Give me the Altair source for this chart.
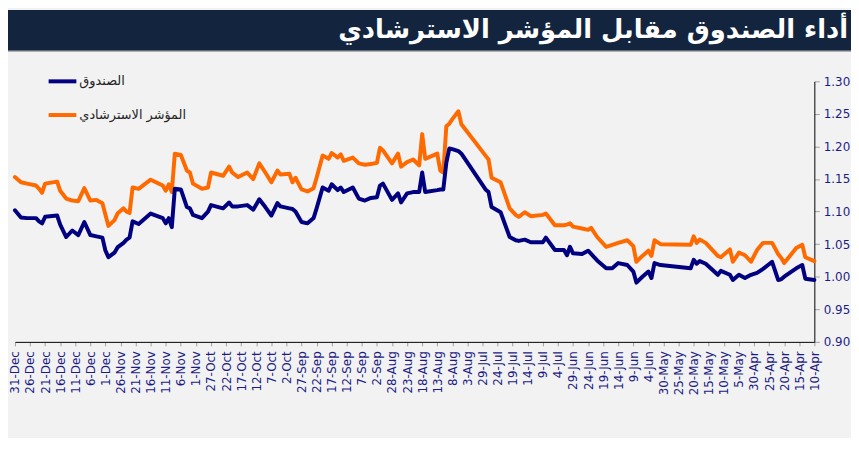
import altair as alt
import pandas as pd

FUND = "الصندوق"
BENCH = "المؤشر الاسترشادي"
TITLE = "أداء الصندوق مقابل المؤشر الاسترشادي"

dates = [
    "2019-04-10", "2019-04-13", "2019-04-14", "2019-04-16", "2019-04-20", "2019-04-21", "2019-04-22",
    "2019-04-24", "2019-04-27", "2019-04-29", "2019-05-01", "2019-05-03", "2019-05-05", "2019-05-07",
    "2019-05-08", "2019-05-11", "2019-05-12", "2019-05-16", "2019-05-18", "2019-05-19", "2019-05-20",
    "2019-05-21", "2019-05-31", "2019-06-02", "2019-06-03", "2019-06-04", "2019-06-06", "2019-06-08",
    "2019-06-09", "2019-06-11", "2019-06-14", "2019-06-16", "2019-06-18", "2019-06-21", "2019-06-23",
    "2019-06-24", "2019-06-26", "2019-06-29", "2019-06-30", "2019-07-01", "2019-07-02", "2019-07-05",
    "2019-07-08", "2019-07-09", "2019-07-13", "2019-07-15", "2019-07-17", "2019-07-18", "2019-07-20",
    "2019-07-23", "2019-07-26", "2019-07-27", "2019-07-28", "2019-08-05", "2019-08-06", "2019-08-08",
    "2019-08-09", "2019-08-10", "2019-08-11", "2019-08-12", "2019-08-13", "2019-08-17", "2019-08-18",
    "2019-08-19", "2019-08-21", "2019-08-23", "2019-08-25", "2019-08-26", "2019-08-28", "2019-08-31",
    "2019-09-01", "2019-09-02", "2019-09-04", "2019-09-06", "2019-09-08", "2019-09-10", "2019-09-13",
    "2019-09-14", "2019-09-15", "2019-09-17", "2019-09-18", "2019-09-20", "2019-09-22", "2019-09-23",
    "2019-09-25", "2019-09-27", "2019-09-29", "2019-09-30", "2019-10-01", "2019-10-04", "2019-10-05",
    "2019-10-07", "2019-10-09", "2019-10-11", "2019-10-13", "2019-10-15", "2019-10-18", "2019-10-20",
    "2019-10-21", "2019-10-23", "2019-10-27", "2019-10-28", "2019-10-30", "2019-11-02", "2019-11-03",
    "2019-11-04", "2019-11-06", "2019-11-08", "2019-11-09", "2019-11-10", "2019-11-11", "2019-11-12",
    "2019-11-16", "2019-11-20", "2019-11-22", "2019-11-23", "2019-11-24", "2019-11-25", "2019-11-27",
    "2019-11-28", "2019-11-30", "2019-12-01", "2019-12-02", "2019-12-04", "2019-12-06", "2019-12-08",
    "2019-12-10", "2019-12-12", "2019-12-14", "2019-12-16", "2019-12-17", "2019-12-21", "2019-12-22",
    "2019-12-23", "2019-12-24", "2019-12-27", "2019-12-29", "2019-12-31",
]

benchmark = [
    1.024, 1.030, 1.049, 1.044, 1.021, 1.029, 1.035,
    1.052, 1.052, 1.041, 1.023, 1.033, 1.037, 1.023,
    1.042, 1.030, 1.032, 1.052, 1.057, 1.052, 1.062,
    1.049, 1.050, 1.056, 1.032, 1.040, 1.032, 1.023,
    1.047, 1.056, 1.052, 1.049, 1.046, 1.061, 1.075,
    1.072, 1.074, 1.077, 1.082, 1.080, 1.079, 1.079,
    1.097, 1.095, 1.093, 1.099, 1.092, 1.095, 1.105,
    1.145, 1.152, 1.180, 1.186, 1.234, 1.254, 1.242,
    1.235, 1.231, 1.160, 1.163, 1.189, 1.181, 1.219,
    1.171, 1.180, 1.176, 1.169, 1.189, 1.174, 1.194,
    1.198, 1.175, 1.173, 1.172, 1.174, 1.183, 1.178,
    1.188, 1.183, 1.190, 1.181, 1.186, 1.152, 1.136,
    1.131, 1.134, 1.152, 1.145, 1.158, 1.157, 1.163,
    1.145, 1.160, 1.174, 1.150, 1.160, 1.153, 1.160,
    1.169, 1.155, 1.160, 1.137, 1.135, 1.143, 1.160,
    1.163, 1.187, 1.189, 1.130, 1.142, 1.132, 1.140,
    1.149, 1.135, 1.137, 1.098, 1.100, 1.105, 1.097,
    1.087, 1.078, 1.095, 1.113, 1.118, 1.117, 1.136,
    1.116, 1.117, 1.120, 1.132, 1.146, 1.143, 1.129,
    1.135, 1.140, 1.143, 1.145, 1.153,
]

fund = [
    0.995, 0.997, 1.018, 1.013, 1.000, 0.996, 0.995,
    1.023, 1.012, 1.006, 1.003, 0.998, 1.003, 0.995,
    1.003, 1.009, 1.003, 1.020, 1.024, 1.020, 1.026,
    1.013, 1.018, 1.021, 0.998, 1.008, 1.000, 0.991,
    1.008, 1.018, 1.021, 1.013, 1.013, 1.025, 1.035,
    1.040, 1.035, 1.036, 1.046, 1.033, 1.041, 1.041,
    1.060, 1.053, 1.053, 1.057, 1.055, 1.056, 1.061,
    1.099, 1.107, 1.130, 1.134, 1.189, 1.193, 1.196,
    1.197, 1.175, 1.134, 1.134, 1.133, 1.130, 1.160,
    1.130, 1.130, 1.128, 1.114, 1.128, 1.118, 1.143,
    1.140, 1.122, 1.121, 1.117, 1.120, 1.137, 1.130,
    1.137, 1.133, 1.142, 1.132, 1.137, 1.105, 1.090,
    1.082, 1.084, 1.100, 1.104, 1.105, 1.108, 1.113,
    1.094, 1.107, 1.119, 1.103, 1.110, 1.108, 1.108,
    1.114, 1.105, 1.110, 1.100, 1.090, 1.095, 1.105,
    1.107, 1.134, 1.135, 1.076, 1.090, 1.082, 1.090,
    1.097, 1.081, 1.085, 1.060, 1.057, 1.052, 1.045,
    1.037, 1.030, 1.040, 1.060, 1.062, 1.064, 1.084,
    1.064, 1.071, 1.061, 1.080, 1.094, 1.092, 1.082,
    1.085, 1.090, 1.090, 1.091, 1.102,
]

tick_dates = [
    "2019-12-31", "2019-12-26", "2019-12-21", "2019-12-16", "2019-12-11", "2019-12-06", "2019-12-01",
    "2019-11-26", "2019-11-21", "2019-11-16", "2019-11-11", "2019-11-06", "2019-11-01",
    "2019-10-27", "2019-10-22", "2019-10-17", "2019-10-12", "2019-10-07", "2019-10-02",
    "2019-09-27", "2019-09-22", "2019-09-17", "2019-09-12", "2019-09-07", "2019-09-02",
    "2019-08-28", "2019-08-23", "2019-08-18", "2019-08-13", "2019-08-08", "2019-08-03",
    "2019-07-29", "2019-07-24", "2019-07-19", "2019-07-14", "2019-07-09", "2019-07-04",
    "2019-06-29", "2019-06-24", "2019-06-19", "2019-06-14", "2019-06-09", "2019-06-04",
    "2019-05-30", "2019-05-25", "2019-05-20", "2019-05-15", "2019-05-10", "2019-05-05",
    "2019-04-30", "2019-04-25", "2019-04-20", "2019-04-15", "2019-04-10",
]
y_ticks = [0.90, 0.95, 1.00, 1.05, 1.10, 1.15, 1.20, 1.25, 1.30]

n = len(dates)
df = pd.DataFrame({
    "date": dates + dates,
    "series": [BENCH] * n + [FUND] * n,
    "value": benchmark + fund,
})


def to_dt(s):
    y, m, d = s.split("-")
    return alt.DateTime(year=int(y), month=int(m), date=int(d), utc=True)


NAVY_TXT = "#1c1c85"
PAD_L, PAD_R = 7, 37
W, H = 807, 263

lines = alt.Chart(df).mark_line(
    strokeWidth=4, strokeJoin="round", strokeCap="round"
).encode(
    x=alt.X(
        "date:T",
        scale=alt.Scale(type="utc", domain=[to_dt("2019-04-10"), to_dt("2019-12-31")],
                        reverse=True, nice=False),
        axis=alt.Axis(
            values=[to_dt(t) for t in tick_dates], format="%-d-%b", labelAngle=270,
            labelAlign="right", labelBaseline="middle", labelColor=NAVY_TXT,
            labelFont="DejaVu Sans", labelFontSize=12, labelPadding=5, labelOverlap=False,
            labelFlush=False, tickColor="#a0a0a0", tickSize=4, domainColor="black",
            domainWidth=1, grid=False, title=None,
        ),
    ),
    y=alt.Y(
        "value:Q",
        scale=alt.Scale(domain=[0.9, 1.3], nice=False, zero=False),
        axis=alt.Axis(
            orient="right", values=y_ticks, format=".2f", labelColor=NAVY_TXT,
            labelFont="DejaVu Sans", labelFontSize=12, labelPadding=4, tickColor="#a0a0a0",
            tickSize=5, domainColor="black", domainWidth=1, grid=False, title=None,
        ),
    ),
    color=alt.Color(
        "series:N",
        scale=alt.Scale(domain=[FUND, BENCH], range=["#000080", "#ff6a00"]),
        legend=alt.Legend(
            title=None, orient="none", legendX=32, legendY=-16, direction="vertical",
            symbolType="stroke", symbolSize=784, symbolStrokeWidth=4,
            labelFont="DejaVu Sans", labelFontSize=13, labelColor="#222222",
            labelOffset=1, rowPadding=10,
        ),
    ),
)

one = alt.Data(values=[{"k": 1}])

banner = alt.Chart(one).mark_rect(color="#13243f").encode(
    x=alt.value(-PAD_L), x2=alt.value(W + PAD_R), y=alt.value(-72), y2=alt.value(-31)
)
banner_line = alt.Chart(one).mark_rule(color="#8a8a8a", strokeWidth=1).encode(
    x=alt.value(-PAD_L), x2=alt.value(W + PAD_R), y=alt.value(-30.5)
)
title = alt.Chart(one).mark_text(
    text=TITLE, font="DejaVu Sans", fontSize=26, fontWeight="bold", color="white",
    align="right", baseline="middle",
).encode(x=alt.value(W + PAD_R - 3), y=alt.value(-52))

chart = alt.layer(banner, banner_line, title, lines).properties(
    width=W, height=H,
    padding={"left": PAD_L, "top": 72, "right": PAD_R, "bottom": 95},
    autosize=alt.AutoSizeParams(type="none"),
    background="#f2f2f2",
).configure_view(stroke="transparent")

chart.save("out.html", embed_options={"renderer": "svg", "actions": False})
